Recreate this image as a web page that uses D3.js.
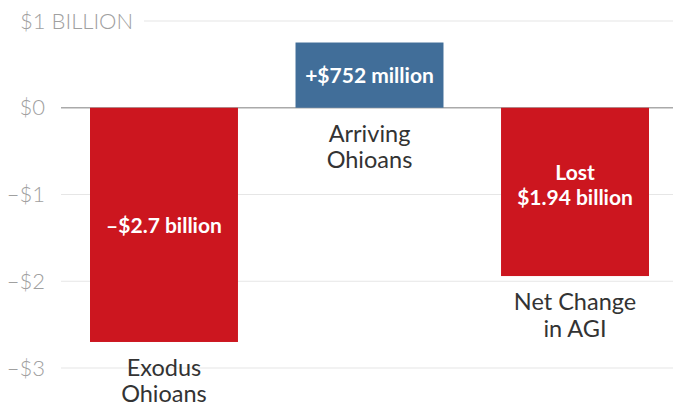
<!DOCTYPE html>
<html><head><meta charset="utf-8">
<script src="https://cdn.jsdelivr.net/npm/d3@7"></script>
<style>body{margin:0;background:#fff}svg{display:block}</style>
</head><body>
<script>
const categories = ["Exodus Ohioans", "Arriving Ohioans", "Net Change in AGI"];
const catLines = [["Exodus","Ohioans"],["Arriving","Ohioans"],["Net Change","in AGI"]];
const values = [-2.7, 0.752, -1.94];
const barLabels = [["\u2013$2.7 billion"],["+$752 million"],["Lost","$1.94 billion"]];
const tickValues = [1, 0, -1, -2, -3];
const tickLabels = ["$1 BILLION", "$0", "\u2013$1", "\u2013$2", "\u2013$3"];
const colors = ["#cc161f", "#416e99", "#cc161f"];

const W = 673, H = 406;
const svg = d3.select("body").append("svg").attr("width", W).attr("height", H);
const y = d3.scaleLinear().domain([1, -3]).range([21, 368]);
const x = d3.scaleBand().domain(categories).range([90, 649]).paddingInner(0.28).paddingOuter(0);

// gridlines
svg.append("g").selectAll("line").data(tickValues).join("line")
  .attr("x1", (d,i) => i === 0 ? 144 : 61).attr("x2", W)
  .attr("y1", d => y(d)).attr("y2", d => y(d))
  .attr("stroke", d => d === 0 ? "#aaaaaa" : "#e6e6e6").attr("stroke-width", d => d === 0 ? 1.5 : 1.2);

// tick labels
svg.append("g").selectAll("text").data(tickValues).join("text")
  .attr("x", (d,i) => i === 0 ? 20 : 45)
  .attr("y", d => y(d))
  .attr("dy", "0.35em")
  .attr("text-anchor", (d,i) => i === 0 ? "start" : "end")
  .attr("font-family", "Lato").attr("font-weight", 300).attr("font-size", 22)
  .attr("fill", "#a0a0a0")
  .text((d,i) => tickLabels[i]);

// bars
svg.append("g").selectAll("rect").data(values).join("rect")
  .attr("x", (d,i) => x(categories[i]))
  .attr("width", x.bandwidth())
  .attr("y", d => y(Math.max(0, d)))
  .attr("height", d => Math.abs(y(d) - y(0)))
  .attr("fill", (d,i) => colors[i]);

// bar labels
const bl = svg.append("g");
values.forEach((v,i) => {
  const cx = x(categories[i]) + x.bandwidth()/2;
  const lines = barLabels[i];
  let y0;
  if (i === 0) y0 = 233;
  else if (i === 1) y0 = 83;
  else y0 = 180;
  lines.forEach((t,j) => {
    bl.append("text").attr("x", cx).attr("y", y0 + j*25)
      .attr("text-anchor", "middle")
      .attr("font-family", "Lato").attr("font-weight", 700).attr("font-size", 21)
      .attr("fill", "#fff").text(t);
  });
});

// category labels
const cl = svg.append("g");
values.forEach((v,i) => {
  const cx = x(categories[i]) + x.bandwidth()/2;
  const y0 = v < 0 ? y(v) + 34 : y(0) + 34;
  catLines[i].forEach((t,j) => {
    cl.append("text").attr("x", cx).attr("y", y0 + j*26.5)
      .attr("text-anchor", "middle")
      .attr("font-family", "Lato").attr("font-weight", 400).attr("font-size", 23.5)
      .attr("fill", "#333").text(t);
  });
});
</script>
</body></html>
